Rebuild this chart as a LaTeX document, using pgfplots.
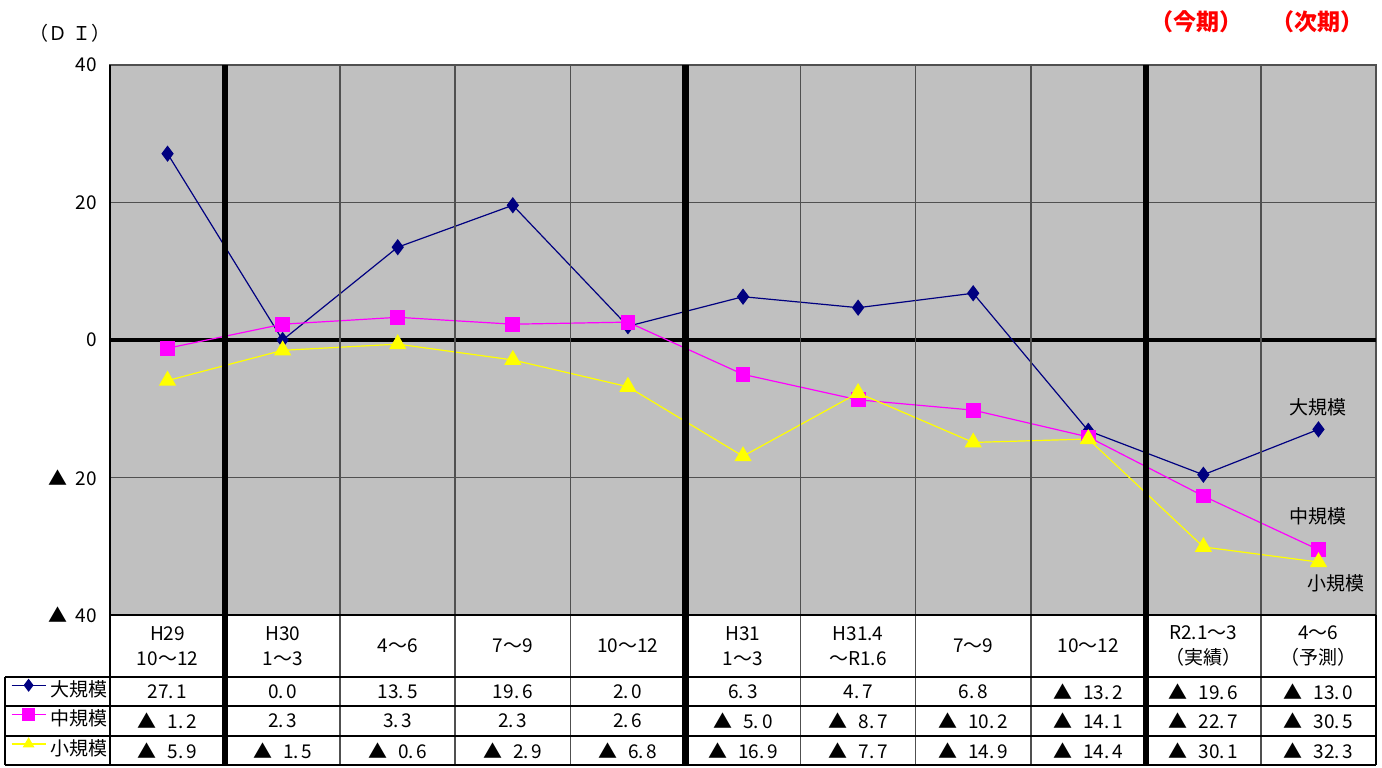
\documentclass[border=0pt]{standalone}
\usepackage{fontspec}
\setmainfont{Noto Sans CJK JP}
\usepackage{pgfplots}
\pgfplotsset{compat=1.18}

\definecolor{bggray}{HTML}{C0C0C0}
\definecolor{gridgray}{HTML}{505050}
\definecolor{dai}{HTML}{000080}
\definecolor{chu}{HTML}{FF00FF}
\definecolor{sho}{HTML}{FFFF00}

% negative sign used in the table and on the axis
\newcommand\mt{▲\hspace{0.58em}}
\newcommand\mtick{▲\hspace{0.42em}}
\newcommand\dt{.\hspace{0.15em}}

\begin{document}
\begin{tikzpicture}[x=1bp, y=1bp, font=\fontsize{9.5bp}{12.5bp}\selectfont]
\path[use as bounding box] (0,0) rectangle (691,383.5);

\begin{axis}[
    at={(55bp,76bp)}, anchor=south west,
    scale only axis, width=633bp, height=275bp,
    xmin=-0.5, xmax=10.5, ymin=-40, ymax=40,
    xtick=\empty,
    ytick={-40,-20,0,20,40},
    yticklabels={\mtick 40,\mtick 20,0,20,40},
    major tick length=0pt,
    yticklabel style={anchor=east, xshift=-3bp},
    ymajorgrids, grid style={gridgray, line width=0.8bp},
    extra y ticks={0}, extra y tick labels={},
    extra y tick style={grid style={black, line width=2bp}},
    axis line style={gridgray, line width=0.8bp},
    axis background/.style={fill=bggray},
    clip=false,
    legend style={at={(rel axis cs:-0.0785,-0.1127)}, anchor=north west,
        draw=none, fill=none, row sep=0pt, inner sep=0pt,
        column sep=2bp,
        nodes={inner sep=0pt, text height=9.6bp, text depth=5.07bp}},
    legend image post style={yshift=3.4bp, mark size=2.8bp},
    legend cell align=left,
]
\addplot[dai, line width=0.6bp, mark=diamond*, mark size=3.6bp,
    mark options={fill=dai, draw=dai}] coordinates {
    (0,27.1) (1,0.0) (2,13.5) (3,19.6) (4,2.0) (5,6.3)
    (6,4.7) (7,6.8) (8,-13.2) (9,-19.6) (10,-13.0)};
\addlegendentry{大規模}
\addplot[chu, line width=0.6bp, mark=square*, mark size=3.4bp,
    mark options={fill=chu, draw=chu}] coordinates {
    (0,-1.2) (1,2.3) (2,3.3) (3,2.3) (4,2.6) (5,-5.0)
    (6,-8.7) (7,-10.2) (8,-14.1) (9,-22.7) (10,-30.5)};
\addlegendentry{中規模}
\addplot[sho, line width=0.6bp, mark=triangle*, mark size=4.4bp,
    mark options={fill=sho, draw=sho}] coordinates {
    (0,-5.9) (1,-1.5) (2,-0.6) (3,-2.9) (4,-6.8) (5,-16.9)
    (6,-7.7) (7,-14.9) (8,-14.4) (9,-30.1) (10,-32.3)};
\addlegendentry{小規模}

\node at (axis cs:10,-9.75) {大規模};
\node at (axis cs:10,-25.6) {中規模};
\node at (axis cs:10.15,-35.35) {小規模};
\end{axis}

% table lines
\def\colw{57.545}
\foreach \k in {2,3,4,6,7,8,10}
  \draw[gridgray, line width=0.8bp] ({55+\colw*\k},351) -- ({55+\colw*\k},1);
\foreach \k in {1,5,9}
  \draw[black, line width=3.3bp] ({55+\colw*\k},351) -- ({55+\colw*\k},1);
\draw[black, line width=0.8bp] (55,351) -- (55,1);
\draw[black, line width=0.8bp] (2.5,45) -- (2.5,1);
\draw[black, line width=0.8bp] (688,76) -- (688,1);
\foreach \yy in {45,30.5,15.5,1}
  \draw[black, line width=0.8bp] (2.5,\yy) -- (688,\yy);
\draw[black, line width=0.8bp] (55,76) -- (688,76);

% category labels
\foreach \lab [count=\i from 0] in {{H29\\10～12},{H30\\1～3},{4～6},{7～9},{10～12},{H31\\1～3},{H31.4\\～R1.6},{7～9},{10～12},{R2.1～3\\（実績）},{4～6\\（予測）}}
  \node[align=center] at ({55+\colw*(\i+0.5)},60.5) {\lab};

\foreach \v [count=\i from 0] in {27\dt 1,0\dt 0,13\dt 5,19\dt 6,2\dt 0,6\dt 3,4\dt 7,6\dt 8,\mt 13\dt 2,\mt 19\dt 6,\mt 13\dt 0}
  \node at ({55+\colw*(\i+0.5)},37.75) {\v};
\foreach \v [count=\i from 0] in {\mt 1\dt 2,2\dt 3,3\dt 3,2\dt 3,2\dt 6,\mt 5\dt 0,\mt 8\dt 7,\mt 10\dt 2,\mt 14\dt 1,\mt 22\dt 7,\mt 30\dt 5}
  \node at ({55+\colw*(\i+0.5)},23) {\v};
\foreach \v [count=\i from 0] in {\mt 5\dt 9,\mt 1\dt 5,\mt 0\dt 6,\mt 2\dt 9,\mt 6\dt 8,\mt 16\dt 9,\mt 7\dt 7,\mt 14\dt 9,\mt 14\dt 4,\mt 30\dt 1,\mt 32\dt 3}
  \node at ({55+\colw*(\i+0.5)},8.25) {\v};

\node at (35,367) {（Ｄ Ｉ）};
\node[red, font=\fontsize{11.5bp}{13bp}\selectfont\bfseries] at (598,372.5) {（今期）};
\node[red, font=\fontsize{11.5bp}{13bp}\selectfont\bfseries] at (658.5,372.5) {（次期）};
\end{tikzpicture}
\end{document}
